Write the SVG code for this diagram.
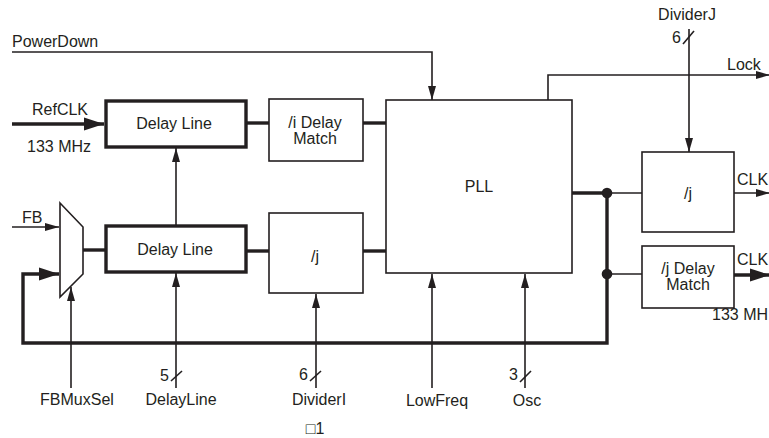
<svg xmlns="http://www.w3.org/2000/svg" width="769" height="438" viewBox="0 0 769 438">
<style>
text{font-family:"Liberation Sans",Arial,sans-serif;font-size:16px;fill:#231f20}
.c{text-anchor:middle}
.e{text-anchor:end}
.thin{stroke:#231f20;stroke-width:1.6;fill:none}
.thick{stroke:#231f20;stroke-width:3.4;fill:none}
.box{stroke:#231f20;stroke-width:1.6;fill:#fff}
.tbox{stroke:#231f20;stroke-width:3.4;fill:#fff}
.dot{fill:#231f20}
</style>
<defs>
<marker id="a" markerUnits="userSpaceOnUse" markerWidth="14" markerHeight="10" refX="14" refY="5" orient="auto">
<path d="M0,1 L14,5 L0,9 Z" fill="#231f20"/>
</marker>
<marker id="A" markerUnits="userSpaceOnUse" markerWidth="20" markerHeight="14" refX="20" refY="7" orient="auto">
<path d="M0,0.5 L20,7 L0,13.5 Z" fill="#231f20"/>
</marker>
</defs>
<g id="connectors">
<polyline class="thin" points="12,52 432,52 432,100" marker-end="url(#a)"/>
<line class="thick" x1="12" y1="124" x2="104" y2="124" marker-end="url(#A)"/>
<line class="thin" x1="12" y1="227" x2="59" y2="227" marker-end="url(#a)"/>
<polyline class="thick" points="607,193 607,343 23,343 23,274 59,274" marker-end="url(#A)"/>
<line class="thick" x1="83" y1="250" x2="106" y2="250"/>
<line class="thin" x1="176" y1="226" x2="176" y2="148" marker-end="url(#a)"/>
<line class="thick" x1="246" y1="123" x2="269" y2="123"/>
<line class="thick" x1="363" y1="123" x2="386" y2="123"/>
<line class="thick" x1="246" y1="251" x2="269" y2="251"/>
<line class="thick" x1="363" y1="251" x2="386" y2="251"/>
<line class="thick" x1="572" y1="193" x2="607" y2="193"/>
<line class="thin" x1="607" y1="193" x2="642" y2="193"/>
<line class="thin" x1="607" y1="274" x2="642" y2="274"/>
<polyline class="thin" points="548,100 548,75 770,75" marker-end="url(#a)"/>
<line class="thin" x1="689" y1="29" x2="689" y2="152" marker-end="url(#a)"/>
<line class="thin" x1="683" y1="44" x2="694" y2="31"/>
<line class="thin" x1="734" y1="193" x2="770" y2="193" marker-end="url(#a)"/>
<line class="thick" x1="734" y1="275" x2="770" y2="275" marker-end="url(#A)"/>
<line class="thin" x1="71" y1="388" x2="71" y2="287" marker-end="url(#a)"/>
<line class="thin" x1="176" y1="388" x2="176" y2="273" marker-end="url(#a)"/>
<line class="thin" x1="171" y1="381" x2="182" y2="371"/>
<line class="thin" x1="316" y1="388" x2="316" y2="294" marker-end="url(#a)"/>
<line class="thin" x1="310" y1="381" x2="321" y2="371"/>
<line class="thin" x1="432" y1="388" x2="432" y2="274" marker-end="url(#a)"/>
<line class="thin" x1="525" y1="388" x2="525" y2="274" marker-end="url(#a)"/>
<line class="thin" x1="520" y1="382" x2="531" y2="371"/>
<circle class="dot" cx="607" cy="193" r="5.3"/>
<circle class="dot" cx="607" cy="274" r="5.3"/>
</g>
<g id="mux">
<polygon class="box" points="60,203 83,227 83,274 60,297"/>
</g>
<g id="delayline1">
<rect class="tbox" x="106" y="101" width="140" height="46"/>
<text class="c" x="174" y="129">Delay Line</text>
</g>
<g id="delayline2">
<rect class="tbox" x="106" y="226" width="140" height="46"/>
<text class="c" x="175" y="255">Delay Line</text>
</g>
<g id="idelaymatch">
<rect class="box" x="269" y="99" width="94" height="62"/>
<text class="c" x="315" y="128">/i Delay</text>
<text class="c" x="315" y="144">Match</text>
</g>
<g id="jdiv1">
<rect class="box" x="269" y="213" width="94" height="80"/>
<text class="c" x="315" y="262">/j</text>
</g>
<g id="pll">
<rect class="box" x="386" y="100" width="186" height="173"/>
<text class="c" x="479" y="192">PLL</text>
</g>
<g id="jdiv2">
<rect class="box" x="642" y="152" width="92" height="80"/>
<text class="c" x="688" y="199">/j</text>
</g>
<g id="jdelaymatch">
<rect class="box" x="642" y="246" width="92" height="62"/>
<text class="c" x="688" y="274">/j Delay</text>
<text class="c" x="688" y="290">Match</text>
</g>
<g id="labels">
<text x="12" y="47">PowerDown</text>
<text class="c" x="60" y="115">RefCLK</text>
<text x="27" y="152">133 MHz</text>
<text x="22" y="223">FB</text>
<text class="c" x="687" y="20">DividerJ</text>
<text class="e" x="681" y="43">6</text>
<text x="727" y="70">Lock</text>
<text x="737" y="185">CLK</text>
<text x="737" y="265">CLK</text>
<text x="712" y="320">133 MH</text>
<text class="c" x="77" y="405">FBMuxSel</text>
<text class="e" x="169" y="381">5</text>
<text class="c" x="181" y="405">DelayLine</text>
<text class="e" x="308" y="380">6</text>
<text class="c" x="319" y="405">DividerI</text>
<text class="c" x="437" y="406">LowFreq</text>
<text class="e" x="518" y="380">3</text>
<text class="c" x="527" y="406">Osc</text>
<text class="c" x="315" y="434">□1</text>
</g>
</svg>
